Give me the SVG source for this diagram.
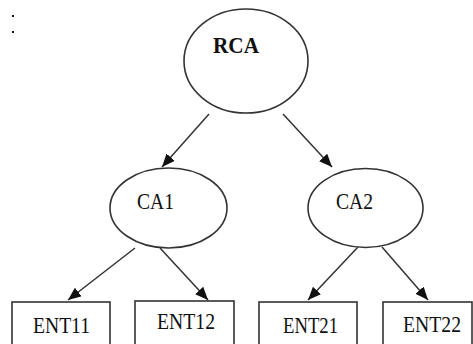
<svg xmlns="http://www.w3.org/2000/svg" width="473" height="344" viewBox="0 0 473 344">
<defs>
<marker id="ah" markerUnits="userSpaceOnUse" markerWidth="14" markerHeight="12" refX="13" refY="5.5" orient="auto">
<path d="M0,0 L13,5.5 L0,11 z" fill="#111"/>
</marker>
<style>
.n{fill:#fff;stroke:#333;stroke-width:1.6}
.t{font-family:"Liberation Serif",serif;font-size:23px;fill:#111;text-anchor:middle}
.b{font-weight:bold;font-size:23px}
.c{stroke:#333;stroke-width:1.5;fill:none;marker-end:url(#ah)}
</style>
</defs>
<rect width="473" height="344" fill="#fff"/>
<rect x="12" y="15" width="2" height="2" fill="#111"/>
<rect x="12" y="31" width="2" height="2" fill="#111"/>
<g id="connectors">
<line class="c" x1="209" y1="114" x2="162" y2="167"/>
<line class="c" x1="283" y1="114" x2="332" y2="167"/>
<line class="c" x1="135" y1="248" x2="68" y2="300"/>
<line class="c" x1="160" y1="248" x2="208" y2="300"/>
<line class="c" x1="358" y1="247" x2="308" y2="300"/>
<line class="c" x1="382" y1="247" x2="428" y2="300"/>
</g>
<g id="RCA">
<ellipse class="n" cx="246" cy="61" rx="62" ry="52"/>
<text class="t b" x="236" y="53" textLength="46" lengthAdjust="spacingAndGlyphs">RCA</text>
</g>
<g id="CA1">
<ellipse class="n" cx="168.5" cy="208" rx="58.5" ry="40"/>
<text class="t" x="155.5" y="209" textLength="37" lengthAdjust="spacingAndGlyphs">CA1</text>
</g>
<g id="CA2">
<ellipse class="n" cx="365.5" cy="208" rx="57.5" ry="39.5"/>
<text class="t" x="354.5" y="209" textLength="37" lengthAdjust="spacingAndGlyphs">CA2</text>
</g>
<g id="ENT11">
<rect class="n" x="12" y="302" width="98" height="50"/>
<text class="t" x="61.5" y="333" textLength="57" lengthAdjust="spacingAndGlyphs">ENT11</text>
</g>
<g id="ENT12">
<rect class="n" x="135" y="301" width="99" height="50"/>
<text class="t" x="186" y="329" textLength="58" lengthAdjust="spacingAndGlyphs">ENT12</text>
</g>
<g id="ENT21">
<rect class="n" x="259" y="302" width="98" height="50"/>
<text class="t" x="310.5" y="333" textLength="55" lengthAdjust="spacingAndGlyphs">ENT21</text>
</g>
<g id="ENT22">
<rect class="n" x="383" y="302" width="89" height="50"/>
<text class="t" x="432" y="332" textLength="58" lengthAdjust="spacingAndGlyphs">ENT22</text>
</g>
</svg>
